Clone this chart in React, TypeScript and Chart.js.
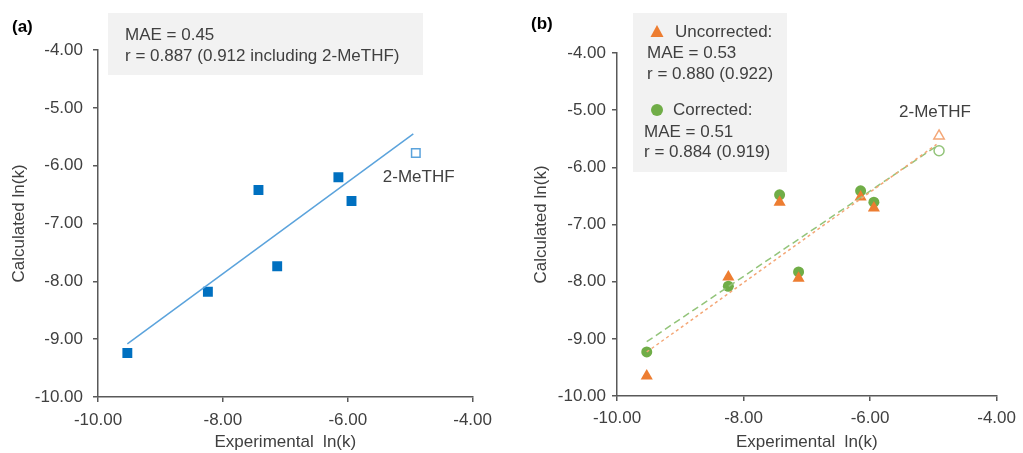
import React, { useEffect, useRef } from "react";
import { Chart, registerables } from "chart.js";

Chart.register(...registerables);

// ---------- data ----------
const experimental = [-9.53, -8.24, -7.13, -7.43, -6.15, -5.94];
const methfExperimental = [-4.91];

const calculatedA = [-9.24, -8.18, -7.74, -6.42, -6.2, -6.61];
const methfCalculatedA = [-5.78];
const trendAX = [-9.53, -4.95];
const trendAY = [-9.08, -5.45];

const uncorrected = [-9.65, -7.92, -7.94, -6.61, -6.52, -6.71];
const methfUncorrected = [-5.45];
const corrected = [-9.23, -8.08, -7.83, -6.48, -6.41, -6.61];
const methfCorrected = [-5.71];
const trendBX = [-9.53, -4.95];
const trendUncorrectedY = [-9.23, -5.6];
const trendCorrectedY = [-9.05, -5.63];

const xTicks = [-10, -8, -6, -4];
const yTicks = [-10, -9, -8, -7, -6, -5, -4];

const boxTextA = ["MAE = 0.45", "r = 0.887 (0.912 including 2-MeTHF)"];
const boxTextUncorrected = ["Uncorrected:", "MAE = 0.53", "r = 0.880 (0.922)"];
const boxTextCorrected = ["Corrected:", "MAE = 0.51", "r = 0.884 (0.919)"];

// ---------- styles ----------
const FONT = "'Liberation Sans', Arial, sans-serif";
const TEXT = "#404040";
const AXIS = "#595959";
const BLUE = "#0070C0";
const BLUE_LINE = "#5BA3DC";
const ORANGE = "#ED7D31";
const ORANGE_LIGHT = "#F4A777";
const GREEN = "#70AD47";
const GREEN_LIGHT = "#93C47A";

const pts = (xs: number[], ys: number[]) => xs.map((x, i) => ({ x, y: ys[i] }));

function makeScales(o: {
  yWidth: number;
  xHeight: number;
  yTitlePad: number;
  yTickPad: number;
  xTickPad: number;
}) {
  return {
    x: {
      type: "linear",
      min: -10,
      max: -4,
      afterBuildTicks: (s: any) => {
        s.ticks = xTicks.map((v) => ({ value: v }));
      },
      ticks: {
        callback: (v: any) => Number(v).toFixed(2),
        color: TEXT,
        font: { family: FONT, size: 17 },
        padding: o.xTickPad,
        maxRotation: 0,
        autoSkip: false,
      },
      grid: { drawOnChartArea: false, tickLength: 5, color: AXIS, lineWidth: 1.5 },
      border: { color: AXIS, width: 1.5 },
      title: {
        display: true,
        text: "Experimental  ln(k)",
        color: TEXT,
        font: { family: FONT, size: 17 },
        padding: { top: 0, bottom: 0 },
      },
      afterFit: (s: any) => {
        s.height = o.xHeight;
      },
    },
    y: {
      type: "linear",
      min: -10,
      max: -4,
      afterBuildTicks: (s: any) => {
        s.ticks = yTicks.map((v) => ({ value: v }));
      },
      ticks: {
        callback: (v: any) => Number(v).toFixed(2),
        color: TEXT,
        font: { family: FONT, size: 17 },
        padding: o.yTickPad,
        autoSkip: false,
      },
      grid: { drawOnChartArea: false, tickLength: 5, color: AXIS, lineWidth: 1.5 },
      border: { color: AXIS, width: 1.5 },
      title: {
        display: true,
        text: "Calculated ln(k)",
        color: TEXT,
        font: { family: FONT, size: 17 },
        padding: { top: o.yTitlePad, bottom: 0 },
      },
      afterFit: (s: any) => {
        s.width = o.yWidth;
      },
    },
  };
}

const annotationA = {
  id: "annotA",
  afterDraw(chart: any) {
    const ctx = chart.ctx;
    ctx.save();
    // panel label
    ctx.fillStyle = "#000";
    ctx.font = `bold 17px ${FONT}`;
    ctx.textBaseline = "middle";
    ctx.textAlign = "left";
    ctx.fillText("(a)", 12, 27);
    // stats box
    ctx.fillStyle = "#F2F2F2";
    ctx.fillRect(108, 13, 315, 62);
    ctx.fillStyle = TEXT;
    ctx.font = `17px ${FONT}`;
    ctx.fillText(boxTextA[0], 125, 35);
    ctx.fillText(boxTextA[1], 125, 56);
    // 2-MeTHF label
    const px = chart.scales.x.getPixelForValue(methfExperimental[0]);
    const py = chart.scales.y.getPixelForValue(methfCalculatedA[0]);
    ctx.fillText("2-MeTHF", px - 33, py + 24);
    ctx.restore();
  },
};

const annotationB = {
  id: "annotB",
  afterDraw(chart: any) {
    const ctx = chart.ctx;
    ctx.save();
    ctx.fillStyle = "#000";
    ctx.font = `bold 17px ${FONT}`;
    ctx.textBaseline = "middle";
    ctx.textAlign = "left";
    ctx.fillText("(b)", 31, 24);
    // legend box
    ctx.fillStyle = "#F2F2F2";
    ctx.fillRect(133, 13, 154, 159);
    // triangle marker
    ctx.fillStyle = ORANGE;
    ctx.beginPath();
    ctx.moveTo(157, 25);
    ctx.lineTo(163.5, 37);
    ctx.lineTo(150.5, 37);
    ctx.closePath();
    ctx.fill();
    // circle marker
    ctx.fillStyle = GREEN;
    ctx.beginPath();
    ctx.arc(157, 110, 6, 0, Math.PI * 2);
    ctx.fill();
    ctx.fillStyle = TEXT;
    ctx.font = `17px ${FONT}`;
    ctx.fillText(boxTextUncorrected[0], 175, 32);
    ctx.fillText(boxTextUncorrected[1], 147, 53);
    ctx.fillText(boxTextUncorrected[2], 147, 74);
    ctx.fillText(boxTextCorrected[0], 173, 110);
    ctx.fillText(boxTextCorrected[1], 144, 132);
    ctx.fillText(boxTextCorrected[2], 144, 152);
    const px = chart.scales.x.getPixelForValue(methfExperimental[0]);
    const py = chart.scales.y.getPixelForValue(methfUncorrected[0]);
    ctx.fillText("2-MeTHF", px - 40, py - 24);
    ctx.restore();
  },
};

function PanelA() {
  const ref = useRef<HTMLCanvasElement>(null);
  useEffect(() => {
    const chart = new Chart(ref.current as HTMLCanvasElement, {
      type: "scatter",
      data: {
        datasets: [
          {
            type: "line",
            data: pts(trendAX, trendAY),
            borderColor: BLUE_LINE,
            borderWidth: 1.5,
            pointRadius: 0,
            showLine: true,
            fill: false,
          },
          {
            data: pts(experimental, calculatedA),
            pointStyle: "rect",
            pointRadius: 7,
            backgroundColor: BLUE,
            borderColor: BLUE,
            borderWidth: 0,
          },
          {
            data: pts(methfExperimental, methfCalculatedA),
            pointStyle: "rect",
            pointRadius: 6,
            backgroundColor: "#FFFFFF",
            borderColor: BLUE_LINE,
            borderWidth: 1.5,
          },
        ] as any,
      },
      options: {
        responsive: false,
        animation: false,
        devicePixelRatio: 1,
        layout: { padding: { top: 50, right: 22, bottom: 0, left: 0 } },
        plugins: { legend: { display: false }, tooltip: { enabled: false } },
        scales: makeScales({ yWidth: 98, xHeight: 56, yTitlePad: 9, yTickPad: 10, xTickPad: 8 }) as any,
      },
      plugins: [annotationA],
    });
    return () => chart.destroy();
  }, []);
  return (
    <canvas
      ref={ref}
      width={500}
      height={453}
      style={{ position: "absolute", left: 0, top: 0, width: 500, height: 453 }}
    />
  );
}

function PanelB() {
  const ref = useRef<HTMLCanvasElement>(null);
  useEffect(() => {
    const chart = new Chart(ref.current as HTMLCanvasElement, {
      type: "scatter",
      data: {
        datasets: [
          {
            type: "line",
            data: pts(trendBX, trendUncorrectedY),
            borderColor: ORANGE_LIGHT,
            borderWidth: 1.5,
            borderDash: [3, 3],
            pointRadius: 0,
            showLine: true,
            fill: false,
          },
          {
            type: "line",
            data: pts(trendBX, trendCorrectedY),
            borderColor: GREEN_LIGHT,
            borderWidth: 1.5,
            borderDash: [7, 4],
            pointRadius: 0,
            showLine: true,
            fill: false,
          },
          {
            data: pts(experimental, uncorrected),
            pointStyle: "triangle",
            pointRadius: 7,
            backgroundColor: ORANGE,
            borderWidth: 0,
          },
          {
            data: pts(methfExperimental, methfUncorrected),
            pointStyle: "triangle",
            pointRadius: 6,
            backgroundColor: "#FFFFFF",
            borderColor: ORANGE_LIGHT,
            borderWidth: 1.5,
          },
          {
            data: pts(experimental, corrected),
            pointStyle: "circle",
            pointRadius: 5.5,
            backgroundColor: GREEN,
            borderWidth: 0,
          },
          {
            data: pts(methfExperimental, methfCorrected),
            pointStyle: "circle",
            pointRadius: 5,
            backgroundColor: "#FFFFFF",
            borderColor: GREEN_LIGHT,
            borderWidth: 1.5,
          },
        ] as any,
      },
      options: {
        responsive: false,
        animation: false,
        devicePixelRatio: 1,
        layout: { padding: { top: 53, right: 21, bottom: 0, left: 0 } },
        plugins: { legend: { display: false }, tooltip: { enabled: false } },
        scales: makeScales({ yWidth: 117, xHeight: 57, yTitlePad: 31, yTickPad: 6, xTickPad: 7 }) as any,
      },
      plugins: [annotationB],
    });
    return () => chart.destroy();
  }, []);
  return (
    <canvas
      ref={ref}
      width={523}
      height={453}
      style={{ position: "absolute", left: 500, top: 0, width: 523, height: 453 }}
    />
  );
}

export default function App() {
  return (
    <div
      style={{
        position: "absolute",
        left: 0,
        top: 0,
        width: 1023,
        height: 453,
        background: "#FFFFFF",
        overflow: "hidden",
      }}
    >
      <PanelA />
      <PanelB />
    </div>
  );
}
